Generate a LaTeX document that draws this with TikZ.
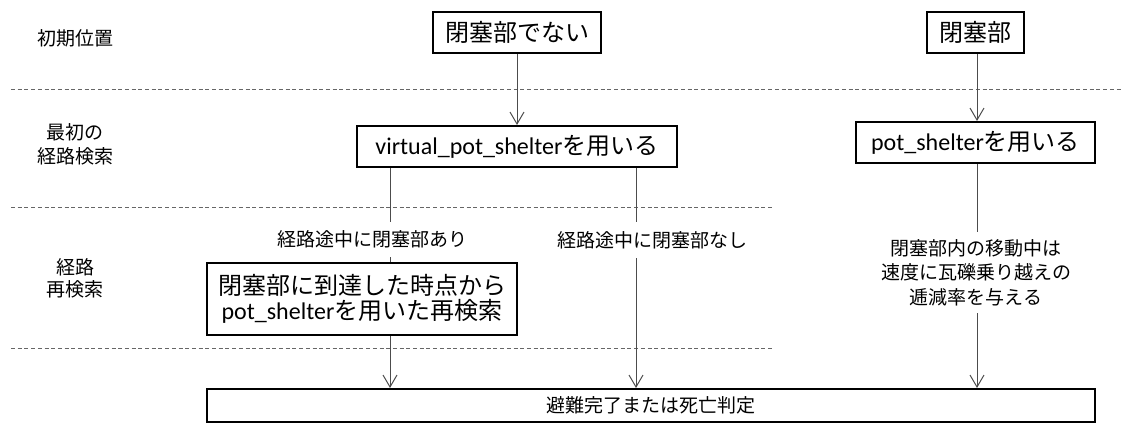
\documentclass[tikz,border=0pt]{standalone}
\usepackage{fontspec}
\setmainfont{Noto Sans CJK JP}
\newfontfamily\lat{Carlito}
\usetikzlibrary{arrows.meta}
\newcommand\fsbig{\fontsize{24}{26}\selectfont}
\newcommand\fssmall{\fontsize{19}{24.5}\selectfont}
\begin{document}
\begin{tikzpicture}[x=1pt,y=-1pt,
  box/.style={draw=black,line width=2pt,inner sep=0pt,align=center,font=\fsbig},
  lbl/.style={inner sep=0pt,align=center,font=\fssmall,text=black},
  link/.style={draw=black!70,line width=1pt},
  arr/.style={link,-{Straight Barb[length=12pt,width=14pt,line width=1pt]}},
  sep/.style={draw=black!60,line width=1pt,dash pattern=on 4pt off 2.7pt}]
\useasboundingbox (0,0) rectangle (1121,424);
% separators
\draw[sep] (11,89) -- (1121,89);
\draw[sep] (11,207) -- (774,207);
\draw[sep] (11,348) -- (774,348);
% row labels
\node[lbl] (r1) at (75,38) {初期位置};
\node[lbl,font=\fontsize{19}{24}\selectfont] (r2) at (75,144) {最初の\\経路検索};
\node[lbl,font=\fontsize{19}{22}\selectfont] (r3) at (75,278) {経路\\再検索};
% boxes
\node[box,minimum width=168pt,minimum height=41pt] (b1) at (517,32.5) {閉塞部でない};
\node[box,minimum width=320pt,minimum height=41pt] (b2) at (517,146.5) {{\lat virtual\_pot\_shelter}を用いる};
\node[box,minimum width=97pt,minimum height=41pt] (b3) at (975.5,32.5) {閉塞部};
\node[box,minimum width=239pt,minimum height=41pt] (b4) at (975.5,142.5) {{\lat pot\_shelter}を用いる};
\node[box,minimum width=310pt,minimum height=72pt,font=\fontsize{24}{25.5}\selectfont] (b5) at (362,299) {閉塞部に到達した時点から\\{\lat pot\_shelter}を用いた再検索};
\node[box,minimum width=888pt,minimum height=33pt,font=\fssmall] (b6) at (651,405.5) {避難完了または死亡判定};
% labels
\node[lbl,minimum height=35pt] (l1) at (372.5,239.5) {経路途中に閉塞部あり};
\node[lbl,minimum height=36pt] (l2) at (652,240) {経路途中に閉塞部なし};
\node[lbl,minimum height=81pt] (l3) at (976,272.5) {閉塞部内の移動中は\\速度に瓦礫乗り越えの\\逓減率を与える};
% connector columns
\coordinate (cL) at (390,0);
\coordinate (cR) at (636,0);
\coordinate (cC) at (977,0);
\draw[arr] (b1) -- (b2);
\draw[arr] (b3.south -| cC) -- (b4.north -| cC);
\draw[link] (b2.south -| cL) -- (l1.north -| cL);
\draw[link] (l1.south -| cL) -- (b5.north -| cL);
\draw[arr] (b5.south -| cL) -- (b6.north -| cL);
\draw[link] (b2.south -| cR) -- (l2.north -| cR);
\draw[arr] (l2.south -| cR) -- (b6.north -| cR);
\draw[link] (b4.south -| cC) -- (l3.north -| cC);
\draw[arr] (l3.south -| cC) -- (b6.north -| cC);
\end{tikzpicture}
\end{document}
